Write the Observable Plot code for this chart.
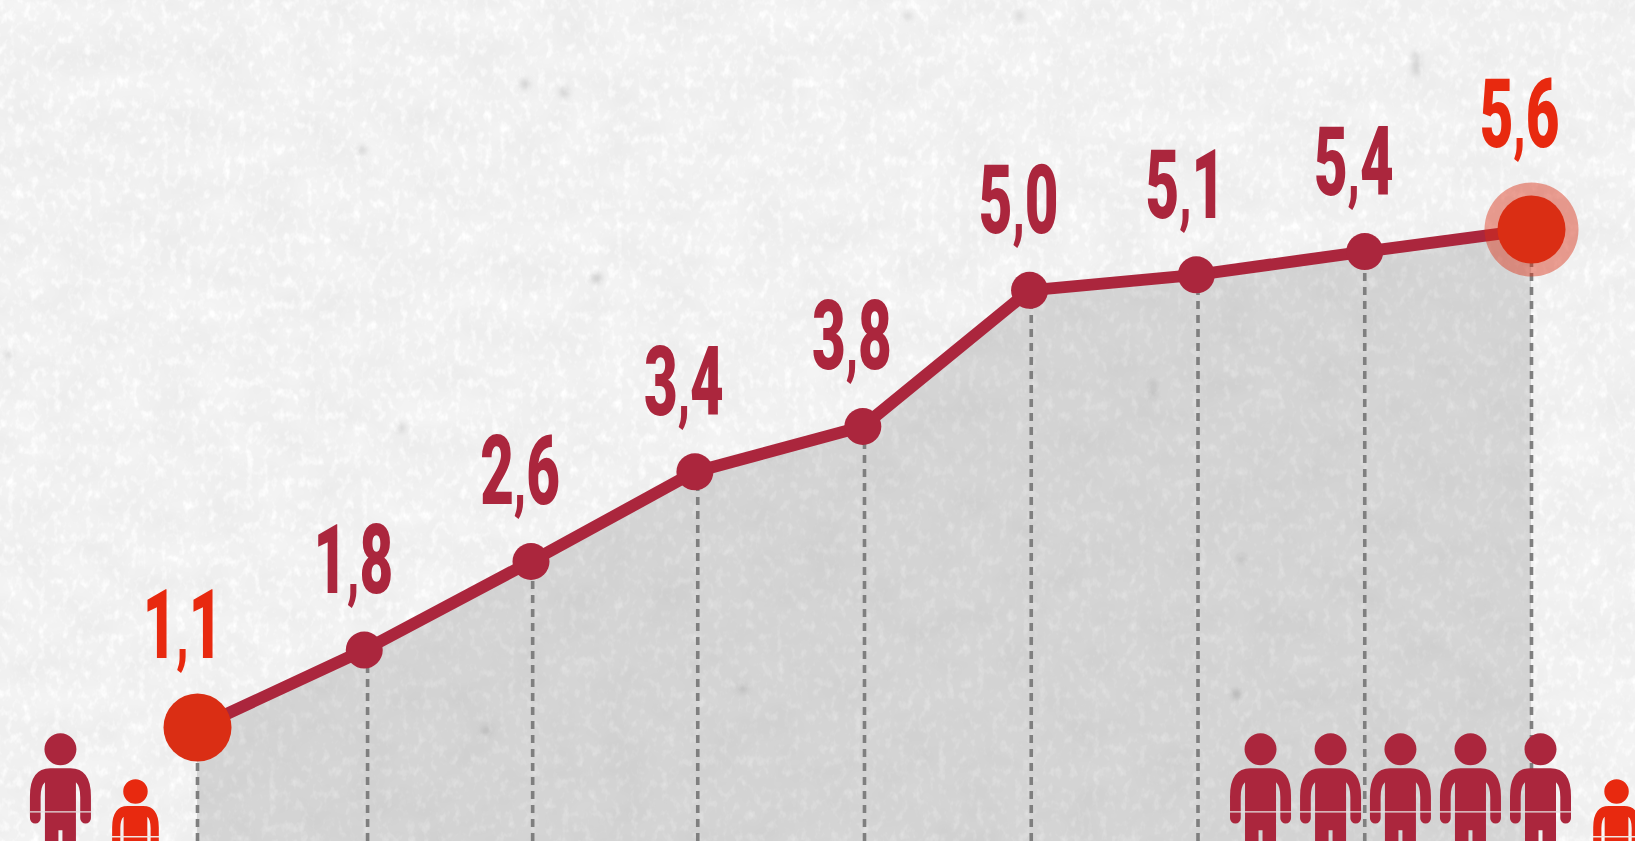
<!DOCTYPE html>
<html>
<head>
<meta charset="utf-8">
<script src="https://cdn.jsdelivr.net/npm/d3@7"></script>
<script src="https://cdn.jsdelivr.net/npm/@observablehq/plot@0.6"></script>
<style>
html,body{margin:0;padding:0;width:1635px;height:841px;overflow:hidden;background:#efefef}
#paper{position:absolute;left:0;top:0}
#chart{position:absolute;left:0;top:0}
#chart svg{display:block;background:transparent}
</style>
</head>
<body>
<svg id="paper" width="1635" height="841">
  <filter id="grain" x="0" y="0" width="100%" height="100%" color-interpolation-filters="sRGB">
    <feTurbulence type="fractalNoise" baseFrequency="0.02 0.028" numOctaves="3" seed="5" result="soft"/>
    <feColorMatrix in="soft" type="matrix" values="0.045 0 0 0 0.92  0.045 0 0 0 0.92  0.045 0 0 0 0.92  0 0 0 0 1" result="softGray"/>
    <feTurbulence type="fractalNoise" baseFrequency="0.13 0.09" numOctaves="3" seed="11" result="fine"/>
    <feColorMatrix in="fine" type="matrix" values="0.14 0 0 0 -0.07  0.14 0 0 0 -0.07  0.14 0 0 0 -0.07  0 0 0 0 1" result="fineGray"/>
    <feComposite in="softGray" in2="fineGray" operator="arithmetic" k1="0" k2="1" k3="1" k4="0"/>
    <feColorMatrix type="matrix" values="1 0 0 0 0  0 1 0 0 0  0 0 1 0 0  0 0 0 0 1"/>
  </filter>
  <rect width="1635" height="841" filter="url(#grain)"/>
</svg>
<div id="chart"></div>
<script>
const steps   = [0, 1, 2, 2.983, 3.99, 4.99, 5.99, 7, 8];
const plotted = [1.1, 1.8, 2.6, 3.41, 3.82, 5.05, 5.19, 5.4, 5.6];
const labels  = ["1,1", "1,8", "2,6", "3,4", "3,8", "5,0", "5,1", "5,4", "5,6"];
const drops   = [0, 1.02, 2.01, 3, 4, 5, 6, 7, 8];
const manX    = [-0.822, 6.375, 6.795, 7.214, 7.634, 8.054];
const manY    = 0.904;
const childX  = [-0.372, 8.51];
const childY  = 0.522;
const speckX  = [7.31, 7.31, 7.31, 1.964, 2.20, 0.988, 2.395, 1.22, 4.26, 4.93, 6.26, 6.23, 5.73, 5.73, 1.73, 3.27, -1.13];
const speckY  = [7.17, 7.10, 7.03, 6.915, 6.84, 6.32, 5.16, 3.806, 7.53, 7.53, 2.63, 1.40, 4.2, 4.12, 1.07, 1.45, 4.47];
const speckR  = [4.5, 5.5, 4.5, 7, 6, 5, 8, 5, 4, 4, 4.5, 8, 3.5, 3.5, 4.5, 4, 4];

const xDomain = [-1.1814, 8.6237];
const yDomain = [0.07, 7.669];
const dark = "#ab263d", bright = "#e8290f", dotRed = "#da2e14";

const rows = steps.map((x, i) => ({x, drop: drops[i], value: plotted[i], label: labels[i]}));
const mid = rows.slice(1, -1);
const ends = [rows[0], rows[rows.length - 1]];
const last = [rows[rows.length - 1]];

const personSymbol = {
  draw(c, size) {
    const s = Math.sqrt(size / Math.PI);
    c.moveTo(16 * s, 0);
    c.arc(0, 0, 16 * s, 0, 2 * Math.PI);
    c.closePath();
    c.moveTo(-30.5 * s, 69 * s);
    c.lineTo(-30.5 * s, 47 * s);
    c.quadraticCurveTo(-30.5 * s, 19 * s, -10 * s, 19 * s);
    c.lineTo(10 * s, 19 * s);
    c.quadraticCurveTo(30.5 * s, 19 * s, 30.5 * s, 47 * s);
    c.lineTo(30.5 * s, 69 * s);
    c.arc(25.15 * s, 69 * s, 5.35 * s, 0, Math.PI, false);
    c.lineTo(19.8 * s, 48 * s);
    c.quadraticCurveTo(19.8 * s, 37 * s, 15.5 * s, 33 * s);
    c.lineTo(15.5 * s, 130 * s);
    c.lineTo(2 * s, 130 * s);
    c.lineTo(2 * s, 81 * s);
    c.lineTo(-2 * s, 81 * s);
    c.lineTo(-2 * s, 130 * s);
    c.lineTo(-15.5 * s, 130 * s);
    c.lineTo(-15.5 * s, 33 * s);
    c.quadraticCurveTo(-19.8 * s, 37 * s, -19.8 * s, 48 * s);
    c.lineTo(-19.8 * s, 69 * s);
    c.arc(-25.15 * s, 69 * s, 5.35 * s, 0, Math.PI, false);
    c.closePath();
  }
};
const stripe = (offset, thick) => ({
  draw(c, size) {
    const s = Math.sqrt(size / Math.PI);
    c.rect(-31 * s, offset, 62 * s, thick);
  }
});

const labelStyle = {
  x: "x", y: "value", text: "label", textAnchor: "middle", lineAnchor: "bottom",
  fontFamily: "Roboto,'Liberation Sans',sans-serif",
  fontWeight: 900, fontSize: 97
};

const chart = Plot.plot({
  width: 1635, height: 841,
  marginTop: 0, marginRight: 0, marginBottom: 0, marginLeft: 0,
  style: {background: "transparent"},
  x: {domain: xDomain, axis: null},
  y: {domain: yDomain, axis: null},
  marks: [
    Plot.dot(speckX.map((x, i) => ({x, y: speckY[i], r: speckR[i]})), {
      x: "x", y: "y", r: "r", fill: "#909090", fillOpacity: 0.5, imageFilter: "blur(3px)"
    }),
    Plot.areaY(rows, {x: "x", y1: () => yDomain[0], y2: "value", fill: "#222", fillOpacity: 0.14, clip: true}),
    Plot.ruleX(rows, {x: "drop", y1: () => yDomain[0], y2: "value", stroke: "#7f7f7f", strokeWidth: 3.6, strokeDasharray: "8 6"}),
    Plot.line(rows, {x: "x", y: "value", stroke: dark, strokeWidth: 12}),
    Plot.dot(mid, {x: "x", y: "value", r: 18.5, fill: dark}),
    Plot.dot(last, {x: "x", y: "value", r: 47, fill: dotRed, fillOpacity: 0.45}),
    Plot.dot(ends, {x: "x", y: "value", r: 34, fill: dotRed}),
    Plot.text(mid, {...labelStyle, fill: dark, dx: -11, dy: -57}),
    Plot.text(last, {...labelStyle, fill: bright, dx: -12, dy: -82}),
    Plot.text([rows[0]], {...labelStyle, fill: bright, dx: -15, dy: -70}),
    Plot.dot(manX, {x: d => d, y: () => manY, r: 1, symbol: personSymbol, fill: dark, clip: true}),
    Plot.dot(manX, {x: d => d, y: () => manY, r: 1, symbol: stripe(62, 1.4), fill: "#e6e2e2"}),
    Plot.dot(childX, {x: d => d, y: () => childY, r: 0.765, symbol: personSymbol, fill: bright, clip: true}),
    Plot.dot(childX, {x: d => d, y: () => childY, r: 0.765, symbol: stripe(44.5, 1.4), fill: "#f2e6e2"})
  ]
});
chart.querySelectorAll("text").forEach(t => {
  const tr = t.getAttribute("transform") || "";
  t.setAttribute("transform", tr + " scale(0.6,1)");
  const [a, b] = t.textContent.split(",");
  t.textContent = "";
  const sel = d3.select(t);
  sel.append("tspan").text(a);
  sel.append("tspan").attr("font-size", 76).text(",");
  sel.append("tspan").text(b);
});
document.getElementById("chart").appendChild(chart);
</script>
</body>
</html>
